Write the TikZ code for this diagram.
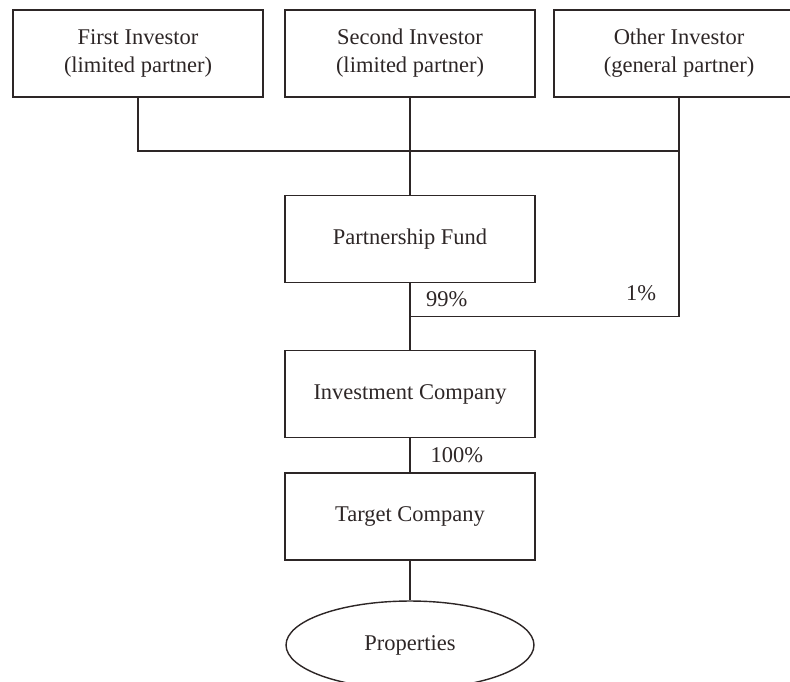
\documentclass[tikz,border=0pt]{standalone}
\usepackage{fontspec}
\setmainfont{Liberation Serif}
\usetikzlibrary{calc}
\usetikzlibrary{shapes.geometric}
\definecolor{inkline}{RGB}{45,38,38}

\begin{document}
\begin{tikzpicture}[x=0.02cm,y=-0.02cm]
% Chart style
\tikzset{
    entity/.style={draw=inkline, line width=0.8pt, rectangle,
        minimum width=5cm, minimum height=1.74cm, align=center,
        font=\fontsize{12.8}{15.9}\selectfont, text=inkline},
    asset/.style={draw=inkline, line width=0.8pt, ellipse,
        minimum width=4.96cm, minimum height=1.76cm,
        font=\fontsize{12.8}{15.9}\selectfont, text=inkline},
    pct/.style={font=\fontsize{12.8}{14}\selectfont, text=inkline},
    link/.style={draw=inkline, line width=0.8pt}
}
\useasboundingbox (0,0) rectangle (790,681);

% Entities
\node[entity] (Firsta) at (138,53.5){First Investor\\(limited partner)};
\node[entity] (Seconda) at (410,53.5){Second Investor\\(limited partner)};
\node[entity] (Othera) at (679,53.5){Other Investor\\(general partner)};

\node[entity] (Funda) at (410,239){Partnership Fund};
\node[entity] (Invca) at (410,394){Investment Company};
\node[entity] (Targa) at (410,516.5){Target Company};
\node[asset] (Propa) at (410,645){Properties};

% Connection
\coordinate (Bus) at ($(Seconda.south)!0.55!(Funda.north)$);
\coordinate (Gp) at ($(Funda.south)!0.5!(Invca.north)$);

\draw[link] (Firsta.south) |- (Bus -| Othera.south);
\draw[link] (Seconda.south) -- (Funda.north);
\draw[link] (Othera.south) |- (Gp);
\draw[link] (Funda.south) -- (Invca.north);
\draw[link] (Invca.south) -- (Targa.north)
    node[pct, midway, right=8pt]{100\%};
\draw[link] (Targa.south) -- (Propa.north);

% Shares
\node[pct, anchor=west] (Pcta) at ($(Funda.south)!0.24!(Invca.north)+(10,0)$){99\%};
\node[pct] (Pctb) at (641,293){1\%};
\end{tikzpicture}
\end{document}
